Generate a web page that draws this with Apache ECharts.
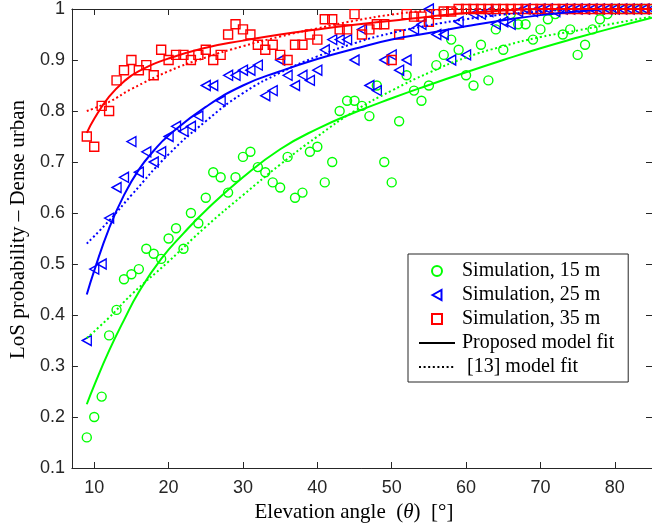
<!DOCTYPE html>
<html><head><meta charset="utf-8">
<script src="https://cdn.jsdelivr.net/npm/echarts@6/dist/echarts.min.js"></script>
<style>html,body{margin:0;padding:0;background:#fff}#c{width:652px;height:529px}</style>
</head><body><div id="c"></div>
<script>
// Elevation angles of the simulation points (degrees)
const angles = [9,10,11,12,13,14,15,16,17,18,19,20,21,22,23,24,25,26,27,28,29,30,31,32,33,34,35,36,37,38,39,40,41,42,43,44,45,46,47,48,49,50,51,52,53,54,55,56,57,58,59,60,61,62,63,64,65,66,67,68,69,70,71,72,73,74,75,76,77,78,79,80,81,82,83,84,85];
// Simulation, 15 m
const sim15 = [0.16,0.20,0.24,0.36,0.41,0.47,0.48,0.49,0.53,0.52,0.51,0.55,0.57,0.53,0.60,0.58,0.63,0.68,0.67,0.64,0.67,0.71,0.72,0.69,0.68,0.66,0.65,0.71,0.63,0.64,0.72,0.73,0.66,0.70,0.80,0.82,0.82,0.81,0.79,0.85,0.70,0.66,0.78,0.87,0.84,0.82,0.85,0.89,0.91,0.94,0.92,0.87,0.85,0.93,0.86,0.96,0.92,0.99,0.97,0.97,0.94,0.96,0.98,0.99,0.95,0.96,0.91,0.93,0.96,0.98,0.99,1.00,1.00,1.00,1.00,1.00,1.00];
// Simulation, 25 m
const sim25 = [0.35,0.49,0.50,0.59,0.65,0.67,0.74,0.68,0.72,0.70,0.72,0.75,0.77,0.76,0.77,0.79,0.85,0.85,0.82,0.87,0.87,0.88,0.88,0.89,0.83,0.84,0.90,0.87,0.85,0.87,0.86,0.88,0.92,0.94,0.94,0.94,0.90,0.96,0.85,0.84,0.90,0.91,0.88,0.90,0.96,0.97,1.00,0.95,0.95,0.90,0.975,0.91,0.99,0.99,0.995,0.97,0.975,0.97,0.995,1.00,0.995,1.00,1.00,0.995,1.00,1.00,1.00,1.00,1.00,1.00,1.00,1.00,1.00,1.00,1.00,1.00,1.00];
// Simulation, 35 m
const sim35 = [0.75,0.73,0.81,0.80,0.86,0.88,0.90,0.88,0.89,0.87,0.92,0.90,0.91,0.91,0.90,0.91,0.92,0.90,0.91,0.95,0.97,0.96,0.95,0.93,0.92,0.93,0.91,0.90,0.93,0.93,0.95,0.94,0.98,0.98,0.96,0.96,0.99,0.95,0.96,0.97,0.97,0.90,0.95,0.99,0.985,0.985,0.975,0.99,0.995,0.995,1.00,1.00,1.00,1.00,1.00,1.00,1.00,1.00,1.00,1.00,1.00,1.00,1.00,1.00,1.00,1.00,1.00,1.00,1.00,1.00,1.00,1.00,1.00,1.00,1.00,1.00,1.00];

// Fit curves
const prop15Angles = [9,10,12,14,16,19,22,25,30,35,40,45,50,55,60,65,70,75,80,85];
const prop15 =       [0.225,0.262,0.33,0.39,0.445,0.51,0.56,0.605,0.67,0.725,0.765,0.797,0.825,0.851,0.876,0.90,0.923,0.944,0.964,0.983];
const ref15Angles = [9,12,15,20,25,30,35,40,45,50,55,60,65,70,75,80,85];
const ref15 =       [0.355,0.395,0.44,0.505,0.573,0.635,0.695,0.75,0.80,0.84,0.875,0.905,0.927,0.945,0.958,0.972,0.985];
const prop25Angles = [9,10,12,14,16,18,20,25,30,35,40,45,50,55,60,65,70,75,80,85];
const prop25 =       [0.44,0.487,0.57,0.635,0.685,0.722,0.752,0.808,0.85,0.878,0.902,0.922,0.94,0.953,0.966,0.978,0.988,0.995,1.0,1.0];
const ref25Angles = [9,12,15,20,25,30,35,40,45,50,55,60,65,70,75,85];
const ref25 =       [0.54,0.585,0.635,0.715,0.78,0.835,0.875,0.907,0.933,0.953,0.968,0.98,0.989,0.995,0.999,1.0];
const prop35Angles = [9,10,12,14,16,20,25,30,35,40,45,50,55,60,65,70,85];
const prop35 =       [0.757,0.785,0.828,0.858,0.878,0.903,0.924,0.938,0.95,0.96,0.969,0.977,0.985,0.992,0.997,1.0,1.0];
const ref35Angles = [9,12,15,20,25,30,35,40,45,50,55,60,85];
const ref35 =       [0.80,0.818,0.843,0.878,0.905,0.927,0.946,0.962,0.977,0.989,0.997,1.0,1.0];

const xTicks = [10,20,30,40,50,60,70,80];
const yTicks = [0.1,0.2,0.3,0.4,0.5,0.6,0.7,0.8,0.9,1];

const GREEN = '#00ff00', BLUE = '#0000ff', RED = '#ff0000', AX = '#262626';
const TRI = 'path://M0,5 L9,0 L9,10 Z';
const SQ = 'path://M0,0 L10,0 L10,10 L0,10 Z';
const pairs = (xs, ys) => xs.map((x, i) => [x, ys[i]]);

const tickFont = {fontFamily: 'Liberation Sans, Arial, sans-serif', fontSize: 18, color: AX};
const serif = 'Liberation Serif, Times New Roman, serif';

function scatter(name, data, symbol, size, color) {
  return {name, type: 'scatter', data, symbol, symbolSize: size, z: 3,
    itemStyle: {color: 'rgba(0,0,0,0)', borderColor: color, borderWidth: 1.4, opacity: 1}};
}
function fit(data, color, dotted) {
  return {type: 'line', data, symbol: 'none', smooth: 0.5, z: 4, silent: true,
    lineStyle: {color, width: 2, type: dotted ? [2, 2.6] : 'solid', cap: 'butt'}};
}

const chart = echarts.init(document.getElementById('c'), null, {renderer: 'canvas'});
chart.setOption({
  animation: false,
  backgroundColor: '#fff',
  grid: {left: 69, top: 9, right: -2, bottom: 61},
  xAxis: [{
    type: 'value', min: 7, max: 85, minInterval: 10, maxInterval: 10, splitNumber: 8,
    name: 'Elevation angle  ({i|θ})  [°]', nameLocation: 'middle', nameGap: 32,
    nameTextStyle: {fontFamily: serif, fontSize: 21, color: '#000', padding: [0, 16, 0, 0],
      rich: {i: {fontFamily: serif, fontSize: 21, fontStyle: 'italic', color: '#000'}}},
    axisLine: {show: true, lineStyle: {color: AX, width: 1}},
    axisTick: {show: true, inside: true, length: 6, lineStyle: {color: AX}},
    axisLabel: Object.assign({margin: 11, showMinLabel: false, showMaxLabel: false,
      formatter: v => xTicks.includes(v) ? String(v) : ''}, tickFont),
    splitLine: {show: false}
  }, {
    type: 'value', position: 'top', min: 7, max: 85, minInterval: 10, maxInterval: 10, splitNumber: 8,
    axisLine: {show: true, lineStyle: {color: AX, width: 1}},
    axisTick: {show: true, inside: true, length: 6, lineStyle: {color: AX}},
    axisLabel: {show: false}, splitLine: {show: false}
  }],
  yAxis: [{
    type: 'value', min: 0.1, max: 1, interval: 0.1,
    name: 'LoS probability – Dense urban', nameLocation: 'middle', nameGap: 42,
    nameTextStyle: {fontFamily: serif, fontSize: 21, color: '#000', padding: [0, 0, 0, 18]},
    axisLine: {show: true, lineStyle: {color: AX, width: 1}},
    axisTick: {show: true, inside: true, length: 6, lineStyle: {color: AX}},
    axisLabel: Object.assign({margin: 7,
      formatter: v => { const r = Math.round(v * 10) / 10; return yTicks.includes(r) ? String(r) : ''; }}, tickFont),
    splitLine: {show: false}
  }, {
    type: 'value', position: 'right', min: 0.1, max: 1, interval: 0.1,
    axisLine: {show: true, lineStyle: {color: AX, width: 1}},
    axisTick: {show: true, inside: true, length: 6, lineStyle: {color: AX}},
    axisLabel: {show: false}, splitLine: {show: false}
  }],
  legend: {
    orient: 'vertical', left: 408, top: 254,
    padding: [7, 14, 5, 10],
    itemWidth: 36, itemHeight: 10, itemGap: 4,
    borderColor: AX, borderWidth: 1, backgroundColor: '#fff',
    textStyle: {fontFamily: serif, fontSize: 20, lineHeight: 20, color: '#000', padding: [0, 0, 0, 2]},
    data: [
      {name: 'Simulation, 15 m', icon: 'circle'},
      {name: 'Simulation, 25 m', icon: TRI},
      {name: 'Simulation, 35 m', icon: SQ},
      {name: 'Proposed model fit'},
      {name: '[13] model fit'}
    ],
    formatter: n => n === '[13] model fit' ? ' ' + n : n
  },
  series: [
    scatter('Simulation, 15 m', pairs(angles, sim15), 'circle', 9, GREEN),
    scatter('Simulation, 25 m', pairs(angles, sim25), TRI, [9, 10], BLUE),
    scatter('Simulation, 35 m', pairs(angles, sim35), SQ, 9, RED),
    fit(pairs(prop15Angles, prop15), GREEN, false),
    fit(pairs(ref15Angles, ref15), GREEN, true),
    fit(pairs(prop25Angles, prop25), BLUE, false),
    fit(pairs(ref25Angles, ref25), BLUE, true),
    fit(pairs(prop35Angles, prop35), RED, false),
    fit(pairs(ref35Angles, ref35), RED, true),
    {name: 'Proposed model fit', type: 'line', data: [], symbol: 'none', symbolSize: 0,
      itemStyle: {color: 'rgba(0,0,0,0)', borderWidth: 0}, lineStyle: {color: '#000', width: 2, type: 'solid'}},
    {name: '[13] model fit', type: 'line', data: [], symbol: 'none', symbolSize: 0,
      itemStyle: {color: 'rgba(0,0,0,0)', borderWidth: 0}, lineStyle: {color: '#000', width: 2, type: [2, 2.6]}}
  ]
});
</script></body></html>
